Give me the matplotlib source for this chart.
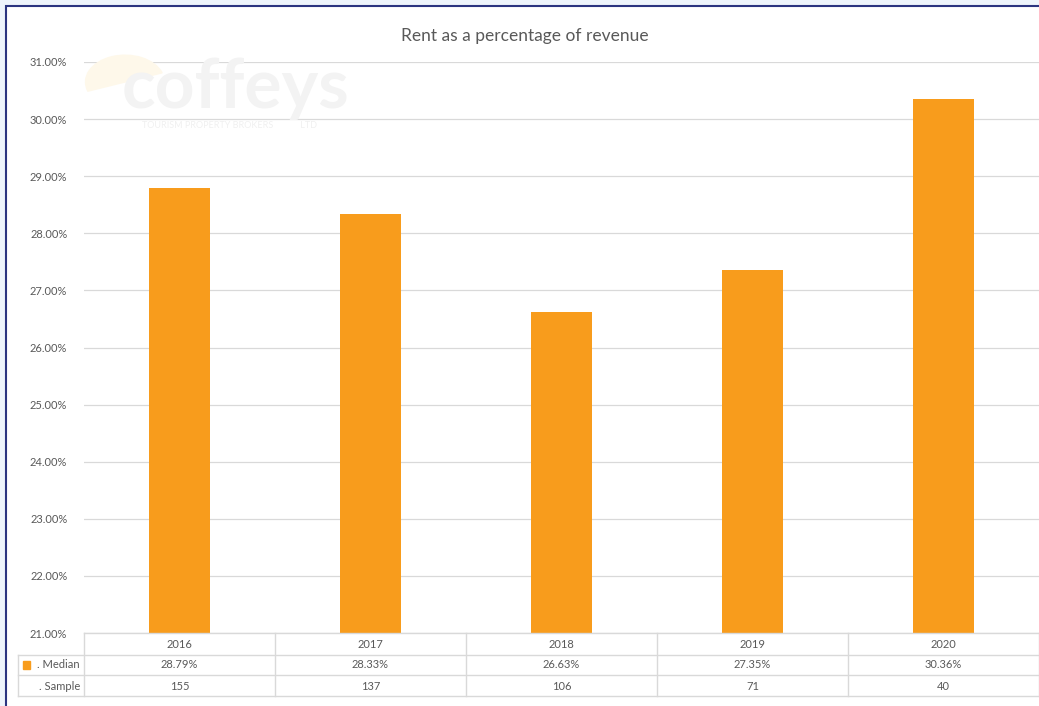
import matplotlib
matplotlib.use('Agg')
import matplotlib.pyplot as plt
from matplotlib.patches import Rectangle, Wedge
from matplotlib.lines import Line2D

# data
years = ['2016', '2017', '2018', '2019', '2020']
median = [28.79, 28.33, 26.63, 27.35, 30.36]
sample = [155, 137, 106, 71, 40]
title = 'Rent as a percentage of revenue'

W, H = 1039, 706
plt.rcParams['font.family'] = ['Lato', 'DejaVu Sans']
fig = plt.figure(figsize=(W / 100, H / 100), dpi=100)
fig.patch.set_facecolor('#eef5fc')

def fx(px):
    return px / W

def fy(py):
    return 1 - py / H

# white chart area with navy border (right and bottom run off the picture)
fig.add_artist(Rectangle((fx(6), -0.05), 1.1, fy(6) + 0.05, transform=fig.transFigure,
                         facecolor='white', edgecolor='#2b3580', lw=1.5, zorder=0))

orange = '#f89c1c'
grey_txt = '#595959'
grid_c = '#d9d9d9'

x0, x1 = 84, 1039
ax = fig.add_axes([fx(x0), fy(633), fx(x1 - x0), fy(62) - fy(633)])
ax.set_facecolor('none')
ax.bar(range(len(years)), median, width=0.315, color=orange, zorder=3)
ax.set_xlim(-0.5, len(years) - 0.5)
ax.set_ylim(21, 31)
ax.set_yticks(range(21, 32))
ax.set_yticklabels([f'{v:.2f}%' for v in range(21, 32)], fontsize=8, color=grey_txt)
ax.set_xticks([])
ax.tick_params(axis='y', length=0, pad=12)
ax.grid(axis='y', color=grid_c, lw=0.9, zorder=0)
for s in ax.spines.values():
    s.set_visible(False)

fig.text(fx(525), fy(36), title, ha='center', va='center', fontsize=12.5, color=grey_txt)

# faint watermark
fig.add_artist(Wedge((fx(125), fy(82)), 0.038, 20, 200,
                     transform=fig.transFigure, color='#fef8ea', zorder=1))
fig.text(fx(235), fy(88), 'coffeys', ha='center', va='center', fontsize=50,
         fontweight='bold', color='#f3f3f3', zorder=1)
fig.text(fx(230), fy(125), 'TOURISM PROPERTY BROKERS            LTD', ha='center', va='center',
         fontsize=6.5, color='#f0f0f0', zorder=1)

# data table under the axis
row_y = [633, 655, 675, 696]
cw = (x1 - x0) / len(years)
lc = '#d9d9d9'
for y in row_y:
    xs = x0 if y == 633 else 18
    fig.add_artist(Line2D([fx(xs), fx(x1)], [fy(y), fy(y)], color=lc, lw=1))
for i in range(len(years) + 1):
    xv = x0 + i * cw
    fig.add_artist(Line2D([fx(xv), fx(xv)], [fy(633), fy(696)], color=lc, lw=1))
fig.add_artist(Line2D([fx(18), fx(18)], [fy(655), fy(696)], color=lc, lw=1))

fs = 8
for i in range(len(years)):
    cx = fx(x0 + (i + 0.5) * cw)
    fig.text(cx, fy(644), years[i], ha='center', va='center', fontsize=fs, color=grey_txt)
    fig.text(cx, fy(665), f'{median[i]:.2f}%', ha='center', va='center', fontsize=fs, color=grey_txt)
    fig.text(cx, fy(686), str(sample[i]), ha='center', va='center', fontsize=fs, color=grey_txt)

fig.add_artist(Rectangle((fx(23), fy(669)), fx(7), fy(661) - fy(669), transform=fig.transFigure,
                         color=orange))
fig.text(fx(80), fy(665), '. Median', ha='right', va='center', fontsize=fs, color=grey_txt)
fig.text(fx(80), fy(686), '. Sample', ha='right', va='center', fontsize=fs, color=grey_txt)

fig.savefig('out.png', dpi=100)
